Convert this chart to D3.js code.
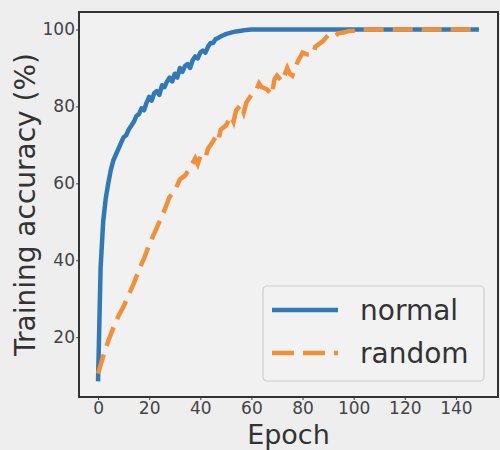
<!DOCTYPE html>
<html>
<head>
<meta charset="utf-8">
<style>
  html, body { margin: 0; padding: 0; background: #eeeeee; }
  svg { display: block; font-family: "DejaVu Sans", sans-serif; }
</style>
</head>
<body>
<svg id="chart" width="500" height="450"></svg>
<script src="https://d3js.org/d3.v7.min.js"></script>
<script>
    const WIDTH = 500;
    const HEIGHT = 450;

    // data
    const normalEpochs = [0,1,2,3,4,5,6,7,8,9,10,11,12,13,14,15,16,17,18,19,20,21,22,23,24,25,26,27,28,29,30,
                          31,32,33,34,35,36,37,38,39,40,41,42,43,44,45,46,47,48,49,50,52,54,56,58,60,149];
    const normalAcc = [8.5,38,50,56,60,63.5,66,67.5,69,70.5,72,72.5,74,75,76,77.5,78,79.5,79,81,82.5,81.5,83.5,84,83,
                       85.5,85,86.5,87.5,86.5,88.5,87.5,90,89,90.5,91,90,92,93,92.5,94,94.5,94,95.5,96.5,96.5,97.5,
                       97.8,98.2,98.5,98.8,99.2,99.5,99.7,99.9,100,100];
    const randomEpochs = [0,2,4,6,8,10,12,14,16,18,20,22,24,26,28,30,32,34,36,38,39,40,42,43,44,46,47,48,50,52,53,
                          54,56,57,58,60,62,63,64,66,68,69,70,72,74,75,76,78,80,82,84,85,86,88,90,92,94,96,98,100,103,149];
    const randomAcc = [10.5,15,19,22.5,25.5,28,31,34,37.5,40.5,44,47,50,53,56.5,58,61,62,64,66.5,65,67,66.5,69,70,
                       72,71,74,75,77.5,76,79,80.5,78.5,81,83,84.5,86,85,84.5,83,87,88,86.5,90,88.5,88,91.5,94,93.5,
                       93.5,95.5,96,97,98.5,98,99,99.2,99.6,99.7,100,100];
    const xTicks = [0,20,40,60,80,100,120,140];
    const yTicks = [20,40,60,80,100];
    const seriesNames = ['normal', 'random'];
    const seriesColors = ['#3079b9', '#f2903a'];

    const plotL = 79, plotR = 498, plotT = 12, plotB = 397;

    let svg = d3.select('#chart');

    let x = d3.scaleLinear().domain([-7.45, 156.45]).range([plotL, plotR]);
    let y = d3.scaleLinear().domain([4.45, 104.55]).range([plotB, plotT]);

    svg.append('rect')
        .attr('x', 0).attr('y', 0)
        .attr('width', WIDTH).attr('height', HEIGHT)
        .attr('fill', '#eeeeee');

    svg.append('rect')
        .attr('x', plotL).attr('y', plotT)
        .attr('width', plotR - plotL).attr('height', plotB - plotT)
        .attr('fill', '#f1f1f1');

    let line = d3.line()
        .x(d => x(d[0]))
        .y(d => y(d[1]));

    const normalPts = normalEpochs.map((e, i) => [e, normalAcc[i]]);
    const randomPts = randomEpochs.map((e, i) => [e, randomAcc[i]]);

    svg.append('path')
        .attr('d', line(normalPts))
        .attr('fill', 'none')
        .attr('stroke', seriesColors[0])
        .attr('stroke-width', 4.5)
        .attr('stroke-linejoin', 'round');

    svg.append('path')
        .attr('d', line(randomPts))
        .attr('fill', 'none')
        .attr('stroke', seriesColors[1])
        .attr('stroke-width', 4.5)
        .attr('stroke-dasharray', '20,9');

    // axes
    let xAxis = d3.axisBottom(x).tickValues(xTicks).tickSize(3).tickPadding(2);
    let yAxis = d3.axisLeft(y).tickValues(yTicks).tickSize(3).tickPadding(1);

    let gx = svg.append('g').attr('transform', `translate(0,${plotB})`).call(xAxis);
    let gy = svg.append('g').attr('transform', `translate(${plotL},0)`).call(yAxis);
    [gx, gy].forEach(g => {
        g.select('.domain').remove();
        g.selectAll('line').attr('stroke', '#444');
        g.selectAll('text')
            .attr('fill', '#444')
            .style('font-size', '17px')
            .style('font-family', '"DejaVu Sans", sans-serif');
    });

    // frame
    svg.append('rect')
        .attr('x', plotL).attr('y', plotT)
        .attr('width', plotR - plotL).attr('height', plotB - plotT)
        .attr('fill', 'none')
        .attr('stroke', '#333')
        .attr('stroke-width', 2);

    // axis labels
    svg.append('text')
        .attr('x', (plotL + plotR) / 2)
        .attr('y', 444)
        .attr('text-anchor', 'middle')
        .attr('fill', '#333')
        .style('font-size', '27px')
        .text('Epoch');

    svg.append('text')
        .attr('transform', `translate(35,${(plotT + plotB) / 2}) rotate(-90)`)
        .attr('text-anchor', 'middle')
        .attr('fill', '#333')
        .style('font-size', '28px')
        .text('Training accuracy (%)');

    // legend
    let legend = svg.append('g');
    legend.append('rect')
        .attr('x', 263).attr('y', 286)
        .attr('width', 221).attr('height', 95)
        .attr('rx', 4)
        .attr('fill', '#f2f2f2')
        .attr('stroke', '#cccccc')
        .attr('stroke-width', 1.2);

    seriesNames.forEach((name, i) => {
        let ly = 310 + i * 43;
        legend.append('line')
            .attr('x1', 272).attr('x2', 338)
            .attr('y1', ly).attr('y2', ly)
            .attr('stroke', seriesColors[i])
            .attr('stroke-width', 4.5)
            .attr('stroke-dasharray', i == 1 ? '22,9' : null);
        legend.append('text')
            .attr('x', 360)
            .attr('y', ly + 10)
            .attr('fill', '#333')
            .style('font-size', '28px')
            .text(name);
    });
</script>
</body>
</html>
